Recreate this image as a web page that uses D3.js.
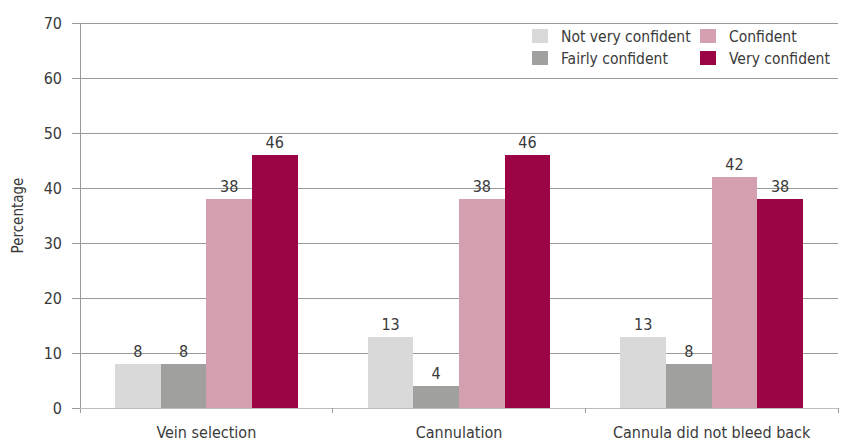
<!DOCTYPE html>
<html>
<head>
<meta charset="utf-8">
<script src="https://cdn.jsdelivr.net/npm/d3@7"></script>
<style>
  body { margin: 0; background: #fff; }
  svg text { font-family: "Liberation Sans Narrow", "DejaVu Sans Condensed", "Roboto", sans-serif; fill: #3a3a3a; }
</style>
</head>
<body>
<svg id="chart" width="841" height="441"></svg>
<script>
// Confidence levels per procedure step (percentages)
const categories = ["Vein selection", "Cannulation", "Cannula did not bleed back"];
const seriesNames = ["Not very confident", "Fairly confident", "Confident", "Very confident"];
const notVeryConfident = [8, 13, 13];
const fairlyConfident = [8, 4, 8];
const confident = [38, 38, 42];
const veryConfident = [46, 46, 38];
const yTicks = [0, 10, 20, 30, 40, 50, 60, 70];
const colors = ["#d9d9d9", "#a0a09f", "#d49fae", "#9b0546"];

const series = [notVeryConfident, fairlyConfident, confident, veryConfident];

const svg = d3.select("#chart");
const margin = { left: 80, right: 3, top: 23, bottom: 33 };
const W = 841, H = 441;

const x = d3.scaleBand().domain(categories).range([margin.left, W - margin.right]).paddingInner(0).paddingOuter(0);
const x1 = d3.scaleBand().domain(seriesNames).range([0, x.bandwidth()]).paddingInner(0).paddingOuter(0.77);
const y = d3.scaleLinear().domain([0, 70]).range([H - margin.bottom, margin.top]);

// Gridlines
svg.append("g").selectAll("line").data(yTicks.filter(d => d > 0)).join("line")
  .attr("x1", margin.left).attr("x2", W - margin.right)
  .attr("y1", d => y(d)).attr("y2", d => y(d))
  .attr("stroke", "#9a9a9a").attr("stroke-width", 1).attr("shape-rendering", "crispEdges");

// Bars
const groups = svg.append("g").selectAll("g").data(categories).join("g")
  .attr("transform", c => `translate(${x(c)},0)`);

groups.selectAll("rect").data((c, i) => series.map((s, j) => ({ name: seriesNames[j], v: s[i], j })))
  .join("rect")
  .attr("x", d => x1(d.name)).attr("width", x1.bandwidth())
  .attr("y", d => y(d.v)).attr("height", d => y(0) - y(d.v))
  .attr("fill", d => colors[d.j]).attr("shape-rendering", "crispEdges");

groups.selectAll("text").data((c, i) => series.map((s, j) => ({ name: seriesNames[j], v: s[i] })))
  .join("text")
  .attr("x", d => x1(d.name) + x1.bandwidth() / 2)
  .attr("y", d => y(d.v) - 7)
  .attr("text-anchor", "middle").attr("font-size", 16)
  .text(d => d.v);

// Y axis
const yAxis = svg.append("g").attr("transform", `translate(${margin.left},0)`)
  .call(d3.axisLeft(y).tickValues(yTicks).tickSize(8).tickPadding(10));
yAxis.select(".domain").remove();
yAxis.selectAll(".tick line").attr("stroke", "#9a9a9a");
yAxis.selectAll(".tick text").attr("font-size", 16).attr("fill", "#3a3a3a");
yAxis.append("line").attr("x1", 0).attr("x2", 0).attr("y1", margin.top).attr("y2", H - margin.bottom + 5)
  .attr("stroke", "#9a9a9a").attr("shape-rendering", "crispEdges");

// X axis
const xAxis = svg.append("g").attr("transform", `translate(0,${H - margin.bottom})`);
xAxis.append("line").attr("x1", margin.left).attr("x2", W - margin.right)
  .attr("stroke", "#bdbdbd").attr("shape-rendering", "crispEdges");
const boundaries = categories.map(c => x(c) + x.bandwidth());
xAxis.selectAll("line.b").data(boundaries).join("line").attr("class", "b")
  .attr("x1", d => d).attr("x2", d => d).attr("y1", 0).attr("y2", 5)
  .attr("stroke", "#9a9a9a").attr("shape-rendering", "crispEdges");
xAxis.selectAll("text").data(categories).join("text")
  .attr("x", c => x(c) + x.bandwidth() / 2).attr("y", 30)
  .attr("text-anchor", "middle").attr("font-size", 16).text(c => c);

// Y title
svg.append("text").attr("transform", `translate(23,${y(35)}) rotate(-90)`)
  .attr("text-anchor", "middle").attr("font-size", 15).text("Percentage");

// Legend
const legendPos = [[532, 36], [532, 58], [700, 36], [700, 58]];
const legend = svg.append("g").selectAll("g").data(seriesNames).join("g")
  .attr("transform", (d, i) => `translate(${legendPos[i][0]},${legendPos[i][1]})`);
legend.append("rect").attr("x", 0).attr("y", -7).attr("width", 16).attr("height", 14)
  .attr("fill", (d, i) => colors[i]);
legend.append("text").attr("x", 29).attr("y", 5.5).attr("font-size", 15.5).text(d => d);
</script>
</body>
</html>
